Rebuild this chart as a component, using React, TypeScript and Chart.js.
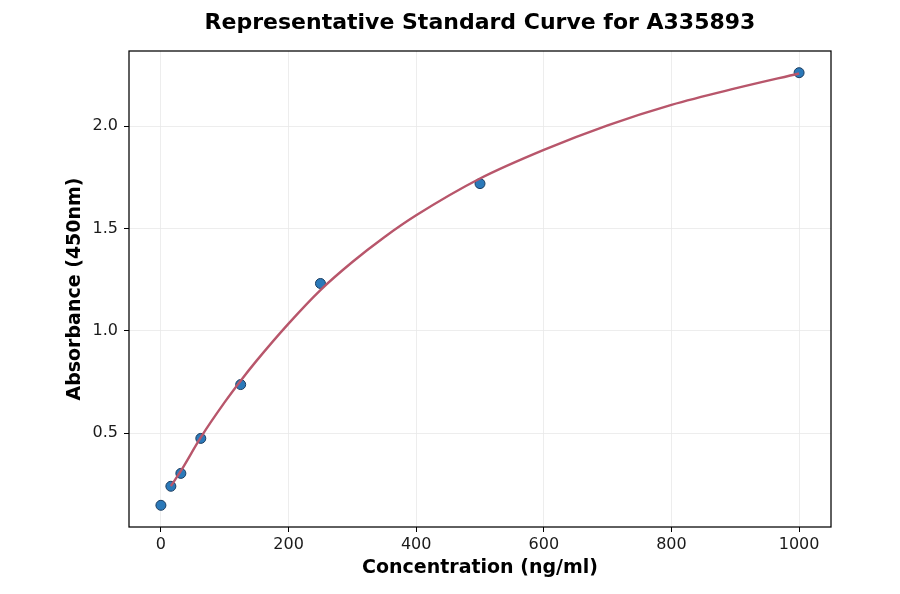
import React, { useEffect, useRef } from 'react';
import { Chart, registerables, Plugin } from 'chart.js';

Chart.register(...registerables);

// measured standards
const concentrations = [0, 15.6, 31.25, 62.5, 125, 250, 500, 1000];
const absorbance = [0.148, 0.241, 0.304, 0.475, 0.738, 1.232, 1.72, 2.262];

// fitted curve
const curveX = [15.6, 31.25, 62.5, 100, 125, 150, 200, 250, 300, 350, 400, 500, 600, 700, 800, 900, 1000];
const curveY = [0.242, 0.316, 0.48, 0.652, 0.757, 0.855, 1.036, 1.2, 1.337, 1.458, 1.565, 1.745, 1.885, 2.005, 2.105, 2.185, 2.258];

const xTicks = [0, 200, 400, 600, 800, 1000];
const yTicks = [0.5, 1.0, 1.5, 2.0];

const FONT = "'DejaVu Sans', sans-serif";

// black box around the plot area (matplotlib spines)
const framePlugin: Plugin = {
  id: 'frame',
  afterDraw(chart) {
    const { ctx, chartArea } = chart;
    ctx.save();
    ctx.strokeStyle = '#000';
    ctx.lineWidth = 1.25;
    ctx.strokeRect(chartArea.left, chartArea.top, chartArea.right - chartArea.left, chartArea.bottom - chartArea.top);
    ctx.restore();
  }
};

export default function App() {
  const canvasRef = useRef<HTMLCanvasElement | null>(null);

  useEffect(() => {
    if (!canvasRef.current) return;

    const chart = new Chart(canvasRef.current, {
      type: 'scatter',
      data: {
        datasets: [
          {
            label: 'Fit',
            data: curveX.map((x, i) => ({ x, y: curveY[i] })),
            showLine: true,
            borderColor: '#b8566b',
            borderWidth: 2.4,
            pointRadius: 0,
            cubicInterpolationMode: 'monotone',
            order: 0
          },
          {
            label: 'Standards',
            data: concentrations.map((x, i) => ({ x, y: absorbance[i] })),
            backgroundColor: '#2b79b9',
            borderColor: '#1c3d60',
            borderWidth: 1,
            pointRadius: 5,
            order: 1
          }
        ]
      },
      options: {
        responsive: true,
        maintainAspectRatio: false,
        animation: false,
        layout: { padding: { left: 0, right: 69, top: 0, bottom: 0 } },
        plugins: {
          legend: { display: false },
          tooltip: { enabled: false },
          title: {
            display: true,
            text: 'Representative Standard Curve for A335893',
            fullSize: false,
            color: '#000',
            font: { family: FONT, size: 22, weight: 'bold' },
            padding: { top: 10.5, bottom: 14.1 }
          }
        },
        scales: {
          x: {
            type: 'linear',
            min: -50,
            max: 1050,
            afterBuildTicks: (scale: any) => { scale.ticks = xTicks.map(v => ({ value: v })); },
            afterFit: (scale: any) => { scale.height = 67; },
            ticks: {
              color: '#1a1a1a',
              padding: 3,
              font: { family: FONT, size: 16 },
              callback: (v: any) => String(v)
            },
            grid: { color: '#e9e9e9', lineWidth: 0.8, tickColor: '#000', tickLength: 5, tickWidth: 1 },
            border: { display: false },
            title: {
              display: true,
              text: 'Concentration (ng/ml)',
              color: '#000',
              font: { family: FONT, size: 19, weight: 'bold' },
              padding: { top: 0, bottom: 15 }
            }
          },
          y: {
            type: 'linear',
            min: 0.042,
            max: 2.368,
            afterBuildTicks: (scale: any) => { scale.ticks = yTicks.map(v => ({ value: v })); },
            afterFit: (scale: any) => { scale.width = 129; },
            ticks: {
              color: '#1a1a1a',
              padding: 6,
              font: { family: FONT, size: 16 },
              callback: (v: any) => Number(v).toFixed(1)
            },
            grid: { color: '#e9e9e9', lineWidth: 0.8, tickColor: '#000', tickLength: 5, tickWidth: 1 },
            border: { display: false },
            title: {
              display: true,
              text: 'Absorbance (450nm)',
              color: '#000',
              font: { family: FONT, size: 19, weight: 'bold' },
              padding: { top: 64, bottom: 0 }
            }
          }
        }
      },
      plugins: [framePlugin]
    });

    return () => {
      chart.destroy();
    };
  }, []);

  return (
    <div style={{ position: 'fixed', left: 0, top: 0, width: 900, height: 594, background: 'white' }}>
      <canvas ref={canvasRef} />
    </div>
  );
}
